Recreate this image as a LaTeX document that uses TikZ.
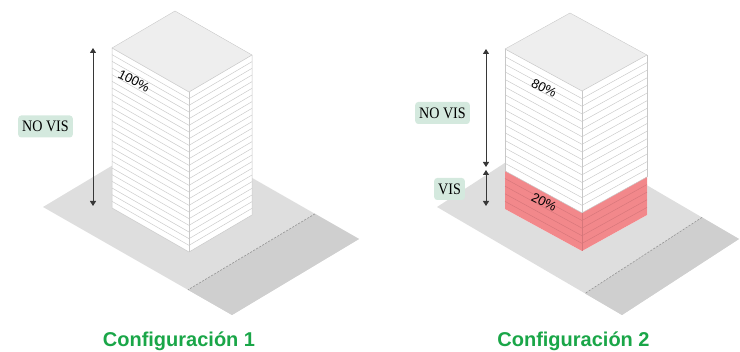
\documentclass[tikz,border=0pt]{standalone}
\usepackage{fontspec}
\setmainfont{Liberation Serif}
\newfontfamily\arialfont{Liberation Sans}
\usetikzlibrary{arrows.meta,calc}
\definecolor{groundA}{RGB}{222,222,222}
\definecolor{groundB}{RGB}{207,207,207}
\definecolor{topface}{RGB}{238,238,238}
\definecolor{stripecol}{RGB}{200,200,200}
\definecolor{pinkface}{RGB}{242,136,139}
\definecolor{pinkstripe}{RGB}{214,118,122}
\definecolor{labelbg}{RGB}{212,233,222}
\definecolor{titlegreen}{RGB}{26,166,72}
\definecolor{arrowgrey}{RGB}{55,55,55}
\definecolor{dashcol}{RGB}{150,150,150}
\tikzset{
  labelbox/.style={fill=labelbg, rounded corners=3pt, minimum height=22pt, inner xsep=4pt, inner ysep=0pt,
    font=\fontsize{16}{16}\selectfont},
  pct/.style={font=\arialfont\fontsize{13}{13}\selectfont, rotate=-27, inner sep=0pt},
  cfgtitle/.style={font=\arialfont\bfseries\fontsize{20}{20}\selectfont, text=titlegreen, anchor=base, inner sep=0pt},
  dimline/.style={draw=arrowgrey, line width=1pt, {Triangle[width=6pt,length=5pt]}-{Triangle[width=6pt,length=5pt]}},
  bedge/.style={draw=stripecol, line width=0.5pt},
  floorline/.style={draw=stripecol, line width=0.45pt},
  pinkline/.style={draw=pinkstripe, line width=0.45pt},
  divline/.style={draw=dashcol, line width=0.6pt, dash pattern=on 2pt off 1.5pt},
}
\begin{document}
\begin{tikzpicture}[x=1pt,y=-1pt]
\useasboundingbox (0,0) rectangle (740,352);

% ---------------- Configuration 1 ----------------
\coordinate (g1back) at (170,131);
\coordinate (g1left) at (43,207);
\coordinate (g1bot) at (232,315);
\coordinate (g1right) at (359,239);
\fill[groundA] (g1back)--(g1right)--(g1bot)--(g1left)--cycle;
\coordinate (g1d1) at ($(g1back)!0.767!(g1right)$);
\coordinate (g1d2) at ($(g1left)!0.767!(g1bot)$);
\fill[groundB] (g1d1)--(g1right)--(g1bot)--(g1d2)--cycle;
\draw[divline] (g1d1)--(g1d2);

% building 1
\fill[white] (112,48)--(189,92)--(189,252)--(112,208)--cycle;
\fill[white] (189,92)--(252,55)--(252,215)--(189,252)--cycle;
\fill[topface] (175,11)--(252,55)--(189,92)--(112,48)--cycle;
\foreach \i in {1,...,23}{
  \draw[floorline] (112,{48+\i*6.667}) -- (189,{92+\i*6.667}) -- (252,{55+\i*6.667});
}
\draw[bedge] (112,48)--(112,208)--(189,252)--(252,215)--(252,55);
\draw[bedge] (189,92)--(189,252);
\draw[bedge] (112,48)--(189,92)--(252,55);
\draw[draw=topface!85!black, line width=0.4pt] (112,48)--(175,11)--(252,55);

\node[pct] (p100) at (134,81) {100\%};

\coordinate (a1top) at (93,48);
\coordinate (a1bot) at (93,206);
\draw[dimline] (a1top) -- (a1bot);
\node[labelbox] (nv1) at (45.5,126.5) {\scalebox{0.88}[1]{NO VIS}};

\node[cfgtitle] (t1) at (179,347) {Configuración 1};

% ---------------- Configuration 2 ----------------
\coordinate (g2back) at (554,131);
\coordinate (g2left) at (437,207);
\coordinate (g2bot) at (622,315);
\coordinate (g2right) at (739,239);
\fill[groundA] (g2back)--(g2right)--(g2bot)--(g2left)--cycle;
\coordinate (g2d1) at ($(g2back)!0.8!(g2right)$);
\coordinate (g2d2) at ($(g2left)!0.8!(g2bot)$);
\fill[groundB] (g2d1)--(g2right)--(g2bot)--(g2d2)--cycle;
\draw[divline] (g2d1)--(g2d2);

% building 2
\fill[white] (505,49)--(582,91)--(582,251)--(505,209)--cycle;
\fill[white] (582,91)--(647,55)--(647,215)--(582,251)--cycle;
\fill[pinkface] (505,{49+16*7.62})--(582,{91+16*7.62})--(647,{55+16*7.62})--(647,215)--(582,251)--(505,209)--cycle;
\fill[topface] (570,13)--(647,55)--(582,91)--(505,49)--cycle;
\foreach \i in {1,...,16}{
  \draw[floorline] (505,{49+\i*7.62}) -- (582,{91+\i*7.62}) -- (647,{55+\i*7.62});
}
\foreach \i in {17,...,20}{
  \draw[pinkline] (505,{49+\i*7.62}) -- (582,{91+\i*7.62}) -- (647,{55+\i*7.62});
}
\draw[bedge] (505,49)--(505,{49+16*7.62});
\draw[bedge] (647,55)--(647,{55+16*7.62});
\draw[bedge] (582,91)--(582,{91+16*7.62});
\draw[pinkline] (582,{91+16*7.62})--(582,251);
\draw[bedge] (505,49)--(582,91)--(647,55);
\draw[draw=topface!85!black, line width=0.4pt] (505,49)--(570,13)--(647,55);

\node[pct] (p80) at (544,88) {80\%};
\node[pct] (p20) at (544,202) {20\%};

\coordinate (a2top) at (486,49);
\coordinate (a2mid1) at (486,167);
\coordinate (a2mid2) at (486,170);
\coordinate (a2bot) at (486,206);
\draw[dimline] (a2top) -- (a2mid1);
\draw[dimline] (a2mid2) -- (a2bot);
\node[labelbox] (nv2) at (442.5,113) {\scalebox{0.88}[1]{NO VIS}};
\node[labelbox] (v2) at (449.5,189) {\scalebox{0.88}[1]{VIS}};

\node[cfgtitle] (t2) at (573.5,347) {Configuración 2};
\end{tikzpicture}
\end{document}
